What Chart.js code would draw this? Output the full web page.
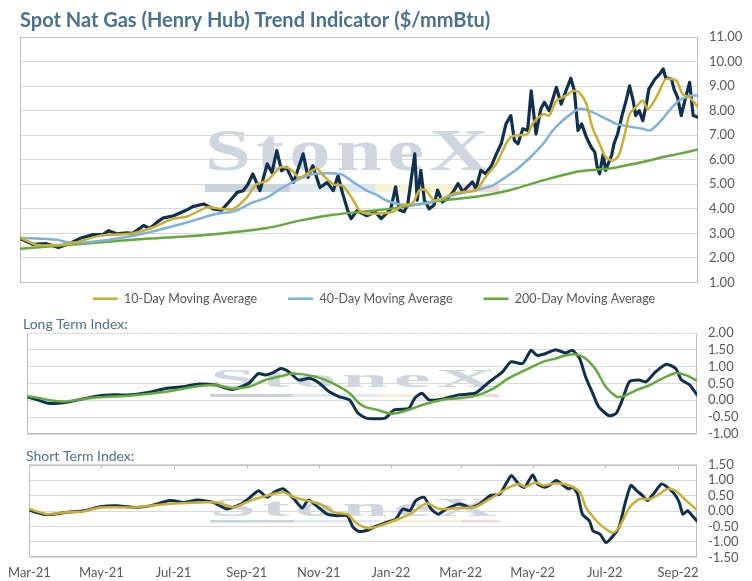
<!DOCTYPE html>
<html><head><meta charset="utf-8">
<script src="https://cdn.jsdelivr.net/npm/chart.js@4.4.0/dist/chart.umd.min.js"></script>
<style>
html,body{margin:0;padding:0;background:#fff;}
#wrap{position:relative;width:752px;height:581px;overflow:hidden;background:#fff;}
.c{position:absolute;left:0;width:752px;}
</style></head><body>
<div id="wrap">
<div class="c" style="top:0;height:336px"><canvas id="topChart"></canvas></div>
<div class="c" style="top:304px;height:140px"><canvas id="ltChart"></canvas></div>
<div class="c" style="top:436px;height:154px"><canvas id="stChart"></canvas></div>
</div>
<script>
// x values are day offsets from 2021-03-01
const monthTickDays = [0,61,122,184,245,306,365,426,487,549];
const monthLabels = ['Mar-21','May-21','Jul-21','Sep-21','Nov-21','Jan-22','Mar-22','May-22','Jul-22','Sep-22'];

const spotDays = [0,11,22,32,42,50,61,69,74,81,89,94,103,108,114,119,128,138,144,153,161,168,175,181,186,190,194,200,206,210,214,218,222,228,236,240,244,250,256,261,265,269,274,276,281,289,296,301,305,309,313,316,320,323,329,331,334,337,341,345,348,352,356,361,365,369,373,377,380,384,388,393,397,401,405,409,412,415,419,423,426,430,434,437,441,447,451,455,459,462,465,468,472,476,479,481,483,486,488,493,495,498,502,505,508,511,513,516,519,522,524,529,533,536,538,543,545,548,551,554,558,561,565];
const spotPrice = [2.79,2.55,2.58,2.43,2.6,2.8,2.95,2.95,3.11,2.98,3.02,3.0,3.32,3.2,3.45,3.62,3.72,3.93,4.09,4.2,4.0,3.95,4.33,4.67,4.74,5.0,5.42,4.74,5.83,5.48,6.37,5.55,5.69,5.08,6.24,5.28,5.76,4.87,5.08,4.74,5.35,4.6,3.8,3.6,3.93,3.72,3.87,3.6,3.8,4.0,4.9,3.95,3.88,4.15,6.24,4.35,5.57,4.35,4.0,4.15,4.76,4.28,4.42,4.69,5.03,4.69,4.9,5.1,4.82,5.57,5.43,5.77,6.24,6.65,7.46,7.8,6.78,6.65,7.26,7.19,8.81,7.05,8.07,8.34,8.0,8.95,8.27,8.81,9.32,8.81,7.19,7.46,6.92,6.51,6.31,5.7,5.43,6.24,5.57,6.18,6.65,7.05,7.86,8.4,9.01,8.4,7.8,8.0,7.59,8.27,8.88,9.28,9.49,9.7,9.35,9.28,8.88,8.54,7.8,8.4,9.15,7.8,7.73];

const ma10Days = [0,14,31,44,67,94,111,128,139,156,167,178,189,197,206,217,225,233,247,253,261,269,278,283,289,296,311,319,327,333,338,345,352,361,369,380,388,397,405,409,413,423,427,436,441,447,455,461,466,472,477,483,488,494,499,504,508,513,519,523,527,533,538,547,552,558,565];
const ma10 = [2.83,2.53,2.53,2.6,2.91,3.0,3.25,3.6,3.68,4.06,4.0,4.0,4.47,5.0,5.15,5.69,5.63,5.28,5.63,5.35,5.0,4.94,4.33,3.93,3.8,3.8,3.88,4.15,4.22,4.76,4.76,4.35,4.42,4.62,4.69,4.76,5.3,5.84,6.65,6.92,6.99,7.05,7.46,7.86,7.8,8.4,8.61,8.81,8.74,8.27,7.32,6.65,6.11,5.97,6.18,7.05,7.86,8.13,8.4,8.07,8.27,8.81,9.28,9.22,8.68,8.54,8.14];

const ma40Days = [0,31,39,56,81,108,136,164,178,194,206,219,233,244,267,278,289,296,305,313,324,338,352,366,380,394,405,413,424,436,444,452,461,466,474,486,497,508,519,525,533,541,549,558,565];
const ma40 = [2.82,2.74,2.64,2.64,2.79,3.05,3.4,3.8,3.89,4.26,4.47,4.87,5.22,5.42,5.42,5.08,4.74,4.6,4.35,4.22,4.15,4.22,4.42,4.62,4.76,4.96,5.3,5.57,6.04,6.65,7.19,7.59,7.93,8.07,8.0,7.73,7.46,7.35,7.26,7.19,7.53,8.0,8.4,8.61,8.61];

const ma200Days = [0,53,108,150,206,233,261,296,317,352,380,408,436,463,474,491,519,536,547,565];
const ma200 = [2.37,2.58,2.79,2.91,3.22,3.52,3.76,3.93,4.06,4.35,4.49,4.76,5.16,5.5,5.57,5.64,5.91,6.11,6.22,6.42];

const ltDays = [0,9,18,32,46,60,74,88,102,117,131,145,159,173,187,195,201,207,214,221,229,238,246,255,263,272,279,286,294,302,310,322,327,333,339,350,364,378,390,401,408,418,425,430,437,446,454,460,466,471,477,482,491,497,502,508,516,522,530,539,547,552,559,565];
const ltIndex = [0.11,0.01,-0.09,-0.07,0.03,0.13,0.16,0.16,0.23,0.35,0.4,0.48,0.45,0.32,0.5,0.79,0.75,0.81,0.94,0.84,0.6,0.65,0.52,0.25,0.11,0.01,-0.38,-0.53,-0.55,-0.53,-0.28,-0.24,0.06,0.21,0.01,0.03,0.16,0.21,0.55,0.84,1.14,1.09,1.48,1.33,1.38,1.5,1.4,1.48,1.24,0.7,0.21,-0.19,-0.46,-0.38,0.01,0.55,0.6,0.55,0.84,1.07,0.94,0.6,0.45,0.16];
const ltAvgDays = [0,18,32,46,60,88,117,145,159,173,187,201,215,224,243,258,272,280,286,294,308,322,336,350,364,378,392,406,420,435,446,454,463,471,480,488,497,502,514,525,536,547,556,565];
const ltAvg = [0.13,0.01,-0.04,0.03,0.09,0.14,0.25,0.42,0.45,0.35,0.4,0.6,0.72,0.79,0.7,0.5,0.21,-0.09,-0.21,-0.27,-0.4,-0.28,-0.11,0.01,0.06,0.13,0.32,0.65,0.89,1.14,1.24,1.33,1.36,1.24,0.89,0.4,0.11,0.11,0.3,0.45,0.65,0.81,0.74,0.58];

const stDays = [0,12,21,32,46,60,74,88,102,119,131,142,156,167,179,187,194,201,207,215,224,231,236,243,252,260,269,274,279,286,294,302,310,316,322,327,334,340,346,353,364,373,381,390,398,404,408,414,419,426,430,436,440,446,452,456,460,464,468,474,477,483,488,494,499,504,509,514,519,523,528,535,540,546,550,553,557,561,565];
const stIndex = [0.03,-0.1,-0.1,-0.04,0.01,0.14,0.17,0.12,0.17,0.34,0.28,0.36,0.28,0.07,0.23,0.45,0.66,0.45,0.61,0.72,0.39,0.1,0.36,0.17,-0.1,-0.15,-0.15,-0.53,-0.66,-0.62,-0.48,-0.37,-0.26,0.07,0.01,0.34,0.45,0.07,-0.1,0.07,0.23,0.12,0.23,0.5,0.55,0.93,1.15,0.88,0.77,1.17,0.88,0.77,0.83,0.99,0.83,0.72,0.77,0.55,-0.1,-0.32,-0.64,-0.75,-1.02,-0.8,-0.53,0.23,0.83,0.66,0.5,0.34,0.55,0.88,0.77,0.55,0.28,-0.1,0.01,-0.15,-0.32];
const stAvgDays = [0,15,32,46,60,88,117,145,159,173,187,201,215,224,235,246,258,269,277,286,294,308,322,336,347,364,378,392,406,414,420,428,435,446,457,466,471,480,488,494,499,508,516,525,533,540,547,556,565];
const stAvg = [0.07,-0.1,-0.04,-0.01,0.12,0.12,0.23,0.28,0.28,0.12,0.34,0.5,0.61,0.45,0.34,0.23,-0.04,-0.1,-0.4,-0.55,-0.51,-0.32,-0.1,0.25,0.07,0.1,0.14,0.45,0.77,0.88,0.79,0.93,0.83,0.9,0.83,0.61,0.12,-0.32,-0.59,-0.7,-0.53,0.12,0.39,0.39,0.55,0.72,0.66,0.34,0.03];

const NAVY = '#10304F', GOLD = '#C9B033', BLUE = '#7FB1DA', GREEN = '#63AA3D';
const TICK = '#595959', GRID = '#D9D9D9', BORDER = '#BFBFBF', TITLE = '#4A7290';
const FONT = 'Lato';

function pairs(days, vals){ return days.map((d,i)=>({x:d, y:vals[i]})); }
function line(label, days, vals, color, width, order, tension){
  return {label, data: pairs(days, vals), borderColor: color, backgroundColor: color,
    borderWidth: width, pointRadius: 0, tension: tension, order: order, yAxisID: 'y', xAxisID: 'x',
    borderJoinStyle: 'round', borderCapStyle: 'round', fill: false};
}

const boxPlugin = {
  id: 'box',
  beforeDatasetsDraw(chart, args, opts){
    const {left, top, right, bottom} = chart.chartArea;
    const ctx = chart.ctx;
    ctx.save();
    ctx.strokeStyle = BORDER; ctx.lineWidth = 1;
    const L = Math.round(left)+0.5, R = Math.round(right)-0.5, T = Math.round(top)+0.5, B = Math.round(bottom)-0.5;
    ctx.beginPath();
    ctx.moveTo(L, T); ctx.lineTo(L, B); ctx.lineTo(R, B); ctx.lineTo(R, T);
    ctx.stroke();
    ctx.beginPath();
    if (opts.dottedTop) ctx.setLineDash([1.5, 1.5]);
    ctx.moveTo(L, T); ctx.lineTo(R, T);
    ctx.stroke();
    ctx.restore();
  }
};

const watermarkPlugin = {
  id: 'watermark',
  beforeDatasetsDraw(chart, args, o){
    if (!o || !o.w) return;
    const ctx = chart.ctx;
    ctx.save();
    const segs = [['#CAD2DB',0,0.29],['#DDE8F2',0.29,0.58],['#F7F1D4',0.58,0.865],['#F5D9D9',0.865,1]];
    segs.forEach(([c,a,b])=>{ ctx.fillStyle = c; ctx.fillRect(o.x + a*o.bw, o.bandY, (b-a)*o.bw, o.bandH); });
    ctx.font = 'bold 60px "Liberation Serif"';
    const letters = 'StoneX', sp = 4;
    let wNat = -sp;
    for (const ch of letters) wNat += ctx.measureText(ch).width + sp;
    ctx.translate(o.x, o.base);
    ctx.scale(o.w / wNat, o.cap / 40);
    ctx.fillStyle = '#CFD6DF';
    ctx.textBaseline = 'alphabetic';
    let x = 0;
    for (const ch of letters){ ctx.fillText(ch, x, 0); x += ctx.measureText(ch).width + sp; }
    ctx.restore();
  }
};

const shiftBoxes = {
  id: 'shiftBoxes',
  afterLayout(chart, args, opts){
    if (!opts) return;
    const lg = chart.legend;
    if (lg && (opts.dy || opts.dx)){
      lg.top += (opts.dy || 0); lg.bottom += (opts.dy || 0);
      lg.left += (opts.dx || 0); lg.right += (opts.dx || 0);
    }
    const tb = chart.titleBlock;
    if (tb && opts.titleDx){ tb.left += opts.titleDx; tb.right += opts.titleDx; }
  }
};

const topTicks = {
  id: 'topTicks',
  afterDatasetsDraw(chart, args, opts){
    if (!opts || !opts.on) return;
    const xs = chart.scales.x, ctx = chart.ctx, top = Math.round(chart.chartArea.top);
    ctx.save(); ctx.strokeStyle = BORDER; ctx.lineWidth = 1;
    xs.ticks.forEach(t => {
      const px = Math.round(xs.getPixelForValue(t.value)) + 0.5;
      ctx.beginPath(); ctx.moveTo(px, top); ctx.lineTo(px, top + 3.5); ctx.stroke();
    });
    ctx.restore();
  }
};

const commonPlugins = [boxPlugin, watermarkPlugin, shiftBoxes, topTicks];

function yAxis(min, max, step, width, hideTop){
  return {
    position: 'right', min, max,
    ticks: {stepSize: step, autoSkip: false, color: TICK, padding: 0, font: {family: FONT, size: 13},
      callback: v => Number(v).toFixed(2)},
    grid: {color: c => (hideTop && c.tick && c.tick.value === max) ? 'rgba(0,0,0,0)' : GRID,
      drawTicks: true, tickLength: 11, tickColor: 'rgba(0,0,0,0)'},
    border: {display: false},
    afterFit(s){ s.width = width; }
  };
}

Chart.defaults.font.family = FONT;

// ---- Top price chart ----
new Chart(document.getElementById('topChart'), {
  type: 'line',
  data: {datasets: [
    line('Spot Price', spotDays, spotPrice, NAVY, 3.2, 10, 0),
    line('10-Day Moving Average', ma10Days, ma10, GOLD, 2.5, 0, 0.25),
    line('40-Day Moving Average', ma40Days, ma40, BLUE, 2.5, 1, 0.25),
    line('200-Day Moving Average', ma200Days, ma200, GREEN, 2.5, 2, 0.25)
  ]},
  options: {
    responsive: true, maintainAspectRatio: false, animation: false,
    layout: {padding: {left: 20, right: 0, top: 0, bottom: 0}},
    scales: {
      x: {type: 'linear', min: 0, max: 565, display: false},
      y: yAxis(1, 11, 1, 54, false)
    },
    plugins: {
      title: {display: true, text: 'Spot Nat Gas (Henry Hub) Trend Indicator ($/mmBtu)', align: 'start',
        color: TITLE, font: {family: FONT, size: 20, weight: 'bold'}, padding: {top: 9, bottom: 4}},
      legend: {position: 'bottom', labels: {usePointStyle: true, pointStyle: 'line', pointStyleWidth: 25,
        padding: 31, color: TICK, font: {family: FONT, size: 12.5},
        filter: it => it.text !== 'Spot Price'}},
      tooltip: {enabled: false},
      shiftBoxes: {dy: -21, dx: -12},
      box: {},
      watermark: {x: 205, w: 284, bw: 294, base: 170, cap: 40, bandY: 184, bandH: 8},
      topTicks: {on: false}
    }
  },
  plugins: commonPlugins
});

// ---- Long term index ----
new Chart(document.getElementById('ltChart'), {
  type: 'line',
  data: {datasets: [
    line('Long Term Index', ltDays, ltIndex, NAVY, 3, 1, 0.2),
    line('Long Term Average', ltAvgDays, ltAvg, GREEN, 2.5, 0, 0.25)
  ]},
  options: {
    responsive: true, maintainAspectRatio: false, animation: false,
    layout: {padding: {left: 27, right: 0, top: 0, bottom: 10}},
    scales: {
      x: {type: 'linear', min: 0, max: 565, display: false},
      y: yAxis(-1, 2, 0.5, 55, true)
    },
    plugins: {
      title: {display: true, text: 'Long Term Index:', align: 'start', color: TITLE,
        font: {family: FONT, size: 14, weight: 'normal'}, padding: {top: 12, bottom: 0}},
      legend: {display: false},
      tooltip: {enabled: false},
      shiftBoxes: {titleDx: -4},
      box: {dottedTop: true},
      watermark: {x: 210, w: 286, bw: 289, base: 83, cap: 17, bandY: 90, bandH: 3},
      topTicks: {on: false}
    }
  },
  plugins: commonPlugins
});

// ---- Short term index ----
new Chart(document.getElementById('stChart'), {
  type: 'line',
  data: {datasets: [
    line('Short Term Index', stDays, stIndex, NAVY, 3, 1, 0.2),
    line('Short Term Average', stAvgDays, stAvg, GOLD, 2.5, 0, 0.25)
  ]},
  options: {
    responsive: true, maintainAspectRatio: false, animation: false,
    layout: {padding: {left: 29, right: 0, top: 0, bottom: 1}},
    scales: {
      x: {type: 'linear', min: 0, max: 565,
        afterBuildTicks(s){ s.ticks = monthTickDays.map(v => ({value: v})); },
        ticks: {autoSkip: false, maxRotation: 0, color: TICK, padding: 8, font: {family: FONT, size: 13},
          callback: v => monthLabels[monthTickDays.indexOf(v)]},
        grid: {display: false, drawTicks: false}, border: {display: false}},
      y: yAxis(-1.5, 1.5, 0.5, 55, false)
    },
    plugins: {
      title: {display: true, text: 'Short Term Index:', align: 'start', color: TITLE,
        font: {family: FONT, size: 14, weight: 'normal'}, padding: {top: 12, bottom: 0}},
      legend: {display: false},
      tooltip: {enabled: false},
      shiftBoxes: {titleDx: -3},
      box: {},
      watermark: {x: 210, w: 286, bw: 290, base: 80, cap: 17, bandY: 84, bandH: 2.5},
      topTicks: {on: true}
    }
  },
  plugins: commonPlugins
});
</script>
</body></html>
